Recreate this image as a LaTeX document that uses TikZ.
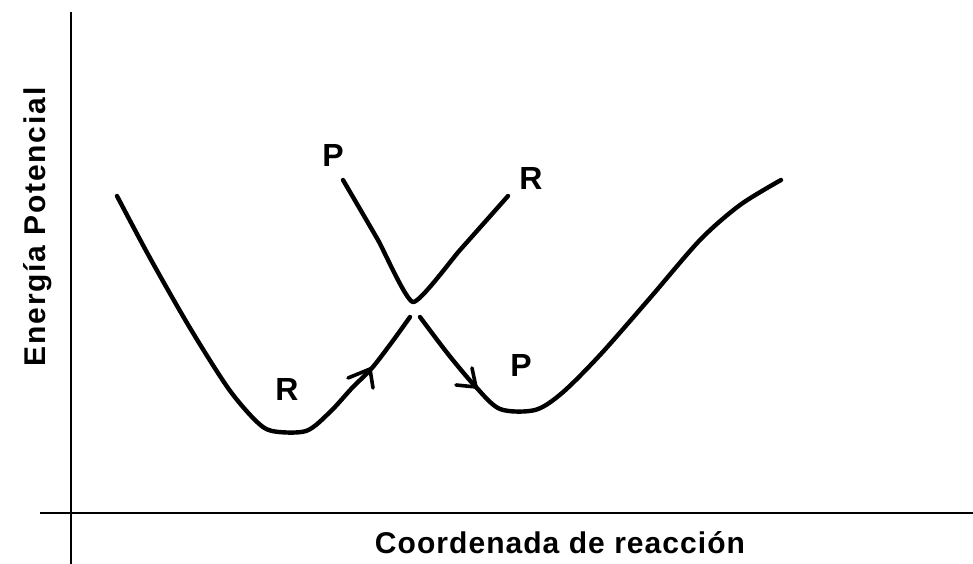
\documentclass[tikz,border=0pt]{standalone}
\usepackage{fontspec}
\setmainfont{Liberation Sans}
\newfontfamily\axfont{Liberation Sans}[LetterSpace=3.5]
\newfontfamily\ayfont{Liberation Sans}[LetterSpace=6]
\newfontfamily\lblfont{Liberation Sans}
\begin{document}
\begin{tikzpicture}[x=1pt,y=-1pt,
  axis/.style={line width=2.8pt,black},
  curve/.style={line width=4.4pt,black,line cap=round,line join=round},
  chev/.style={line width=3.6pt,black,line cap=round,line join=miter},
  lbl/.style={font=\lblfont\bfseries\fontsize{32}{36}\selectfont,inner sep=0pt},
  axlbl/.style={font=\axfont\bfseries\fontsize{30}{34}\selectfont,inner sep=0pt},
  aylbl/.style={font=\ayfont\bfseries\fontsize{30}{34}\selectfont,inner sep=0pt}]
\useasboundingbox (0,0) rectangle (973,564);
\fill[white] (0,0) rectangle (973,564);
% axes
\coordinate (yb) at (71,564);
\coordinate (yt) at (71,12);
\coordinate (xl) at (40,513);
\coordinate (xr) at (973,513);
\draw[axis] (yb) -- (yt);
\draw[axis] (xl) -- (xr);
% left well (reactants)
\draw[curve] plot[smooth,tension=0.5] coordinates {(117,196) (150,258) (190,328) (228,388) (255,420) (272,431) (306,431) (330,412) (352,388) (372,368) (392,342) (410,317)};
% crossing V
\draw[curve] plot[smooth,tension=0.3] coordinates {(343,180) (378,240) (413,302) (460,250) (508,196)};
% right well (products)
\draw[curve] plot[smooth,tension=0.5] coordinates {(420,317) (448,354) (475,386) (500,409) (535,410) (562,393) (600,355) (650,298) (700,240) (740,205) (781,180)};
% arrowheads
\coordinate (a1) at (370,369);
\draw[chev] (348,378) -- (a1) -- (373,388);
\coordinate (a2) at (476,387);
\draw[chev] (456,385) -- (a2) -- (472,368);
% labels
\node[lbl] (p1) at (333,155) {P};
\node[lbl] (r1) at (531,178) {R};
\node[lbl] (r2) at (287,389) {R};
\node[lbl] (p2) at (521,365) {P};
\node[axlbl,anchor=base] (xlab) at (560,553) {Coordenada de reacción};
\node[aylbl,anchor=base,rotate=90] (ylab) at (45,227) {Energía Potencial};
\end{tikzpicture}
\end{document}
